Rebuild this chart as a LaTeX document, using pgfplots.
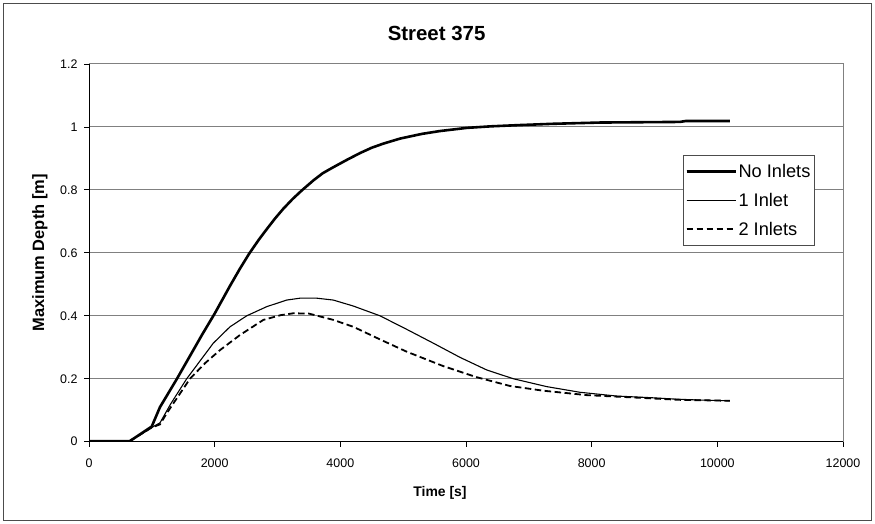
\documentclass[border=0pt]{standalone}
\usepackage{pgfplots}
\pgfplotsset{compat=1.18}
\usepackage{fontspec}
\setmainfont{Liberation Sans}
\begin{document}
\begin{tikzpicture}
\path (-89bp,-82.3bp) rectangle (786bp,441.7bp);
\draw[line width=1bp, black!70] (-85bp,-78.3bp) rectangle (782bp,437.7bp);
\begin{axis}[
  scale only axis,
  width=754bp, height=377.7bp,
  xmin=0, xmax=12000, ymin=0, ymax=1.2,
  xtick={0,2000,...,12000},
  ytick={0,0.2,0.4,0.6,0.8,1,1.2},
  scaled ticks=false,
  /pgf/number format/1000 sep={},
  /pgf/number format/assume math mode=true,
  ticklabel style={font=\fontsize{12.5}{14}\selectfont},
  xticklabel style={yshift=-9bp},
  yticklabel style={xshift=-3bp},
  xtick pos=bottom, ytick pos=left,
  tick align=outside,
  major tick length=5bp,
  tick style={black, line width=0.8bp},
  ymajorgrids,
  grid style={draw=black!50, line width=1bp},
  axis line style={draw=black!50, line width=1bp},
  xlabel={\textbf{Time [s]}},
  ylabel={\textbf{Maximum Depth [m]}},
  xlabel style={font=\fontsize{14}{16}\selectfont, at={(axis description cs:0.4655,-0.136)}, anchor=center},
  ylabel style={font=\fontsize{16.5}{18}\selectfont, at={(axis description cs:-0.065,0.5)}, anchor=center},
  title={\textbf{Street 375}},
  title style={font=\fontsize{20.5}{23}\selectfont, at={(axis description cs:0.461,1)}, anchor=center, yshift=25bp},
  legend style={at={(rel axis cs:0.7878,0.759)}, anchor=north west,
    draw=black!70, line width=0.8bp, font=\fontsize{18.3}{20}\selectfont,
    row sep=0bp, inner sep=2bp,
    nodes={minimum height=28.7bp, inner sep=1.5bp},
    cells={anchor=west}},
  legend image code/.code={\draw[#1] (0bp,0bp) -- (46bp,0bp); \path (0bp,0bp) -- (49bp,0bp);},
]
\addplot[black, line width=2.6bp] coordinates {
(0,0.002) (650,0.002) (998,0.048) (1130,0.11) (1400,0.2) (1600,0.27) (1800,0.34)
(2000,0.407) (2244,0.495) (2400,0.549) (2551,0.598) (2700,0.641) (2828,0.675)
(2960,0.709) (3092,0.740) (3240,0.771) (3385,0.798) (3570,0.830) (3720,0.853)
(3888,0.872) (4100,0.895) (4313,0.917) (4500,0.934) (4684,0.947) (4950,0.963)
(5300,0.978) (5586,0.987) (6011,0.997) (6400,1.002) (6860,1.006) (7385,1.01)
(8133,1.014) (9406,1.016) (9500,1.019) (10200,1.019)};
\addlegendentry{No Inlets}
\addplot[black, line width=1.1bp] coordinates {
(0,0.002) (650,0.002) (998,0.045) (1130,0.06) (1300,0.12) (1555,0.2)
(1780,0.26) (1978,0.313) (2244,0.365) (2510,0.4) (2828,0.429) (3146,0.45)
(3358,0.456) (3624,0.456) (3888,0.450) (4207,0.431) (4631,0.40) (5056,0.357)
(5480,0.313) (5904,0.268) (6329,0.228) (6753,0.200) (7284,0.175) (7814,0.157)
(8398,0.145) (8928,0.140) (9353,0.135) (9777,0.132) (10200,0.130)};
\addlegendentry{1 Inlet}
\addplot[black, line width=1.8bp, dash pattern=on 6.5bp off 3.5bp] coordinates {
(0,0.002) (650,0.002) (998,0.045) (1130,0.055) (1236,0.09) (1607,0.2)
(1850,0.25) (2085,0.291) (2403,0.339) (2775,0.387) (3050,0.402) (3252,0.408)
(3500,0.407) (3888,0.387) (4207,0.365) (4631,0.325) (5056,0.286) (5640,0.240)
(6169,0.205) (6700,0.177) (7231,0.162) (7920,0.148) (8716,0.140) (9400,0.133)
(10200,0.130)};
\addlegendentry{2 Inlets}
\draw[black, line width=1bp] (rel axis cs:0,0) -- (rel axis cs:1,0);
\draw[black, line width=1bp] (rel axis cs:0,0) -- (rel axis cs:0,1);
\end{axis}
\end{tikzpicture}
\end{document}
